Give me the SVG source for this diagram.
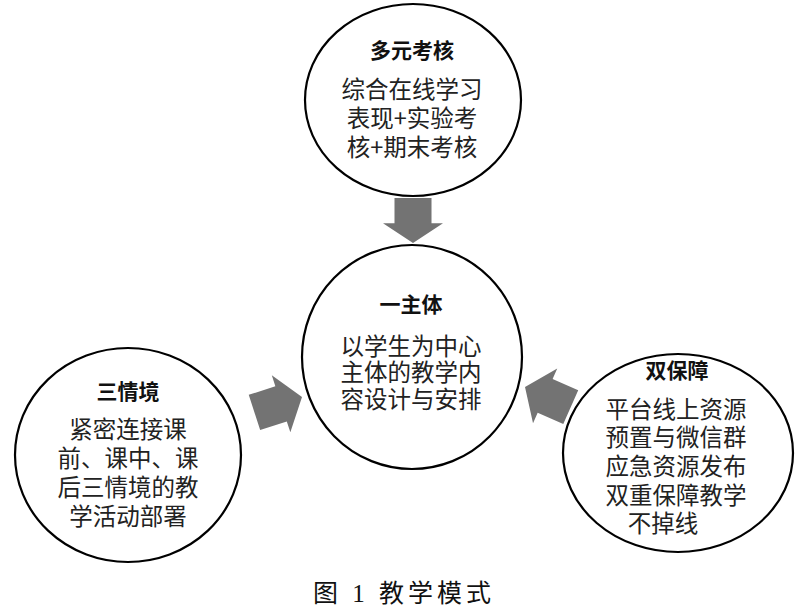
<svg xmlns="http://www.w3.org/2000/svg" width="800" height="610" viewBox="0 0 800 610">
<style>
.node ellipse{fill:#fff;stroke:#000;stroke-width:2.2}
.t{font-family:"Noto Sans CJK SC","Noto Sans",sans-serif;font-size:21px;font-weight:bold;fill:#111;text-anchor:middle}
.b{font-family:"Noto Sans CJK SC","Noto Sans",sans-serif;font-size:23.5px;fill:#222;text-anchor:middle}
.arrow{fill:#737373}
.cap{font-family:"Liberation Serif","Noto Sans CJK SC",serif;font-size:25px;fill:#111}
</style>
<defs>
<polygon id="arr" points="0,0 -22,-30 -22,-18.5 -50,-18.5 -50,18.5 -22,18.5 -22,30"/>
</defs>
<rect width="800" height="610" fill="#fff"/>
<g id="connectors">
<use href="#arr" class="arrow" transform="translate(413,243) rotate(90) scale(0.9,1)"/>
<use href="#arr" class="arrow" transform="translate(302,397) rotate(-18)"/>
<use href="#arr" class="arrow" transform="translate(525,387) rotate(203.8)"/>
</g>
<g id="top" class="node">
<ellipse cx="413" cy="100" rx="108" ry="96"/>
<text class="t" x="412" y="58">多元考核</text>
<text class="b" x="412" y="98">综合在线学习</text>
<text class="b" x="412" y="127">表现+实验考</text>
<text class="b" x="412" y="156">核+期末考核</text>
</g>
<g id="center" class="node">
<ellipse cx="412" cy="357" rx="110" ry="112"/>
<text class="t" x="411" y="312">一主体</text>
<text class="b" x="411" y="355">以学生为中心</text>
<text class="b" x="411" y="381">主体的教学内</text>
<text class="b" x="411" y="408">容设计与安排</text>
</g>
<g id="left" class="node">
<ellipse cx="128" cy="455" rx="113" ry="107"/>
<text class="t" x="128" y="399">三情境</text>
<text class="b" x="128" y="438">紧密连接课</text>
<text class="b" x="128" y="467">前、课中、课</text>
<text class="b" x="128" y="496">后三情境的教</text>
<text class="b" x="128" y="525">学活动部署</text>
</g>
<g id="right" class="node">
<ellipse cx="678" cy="453" rx="115" ry="99"/>
<text class="t" x="677" y="378">双保障</text>
<text class="b" x="676" y="418">平台线上资源</text>
<text class="b" x="676" y="446">预置与微信群</text>
<text class="b" x="676" y="475">应急资源发布</text>
<text class="b" x="676" y="504">双重保障教学</text>
<text class="b" x="663" y="532">不掉线</text>
</g>
<text class="cap" x="313" y="602" letter-spacing="4">图 1 教学模式</text>
</svg>
